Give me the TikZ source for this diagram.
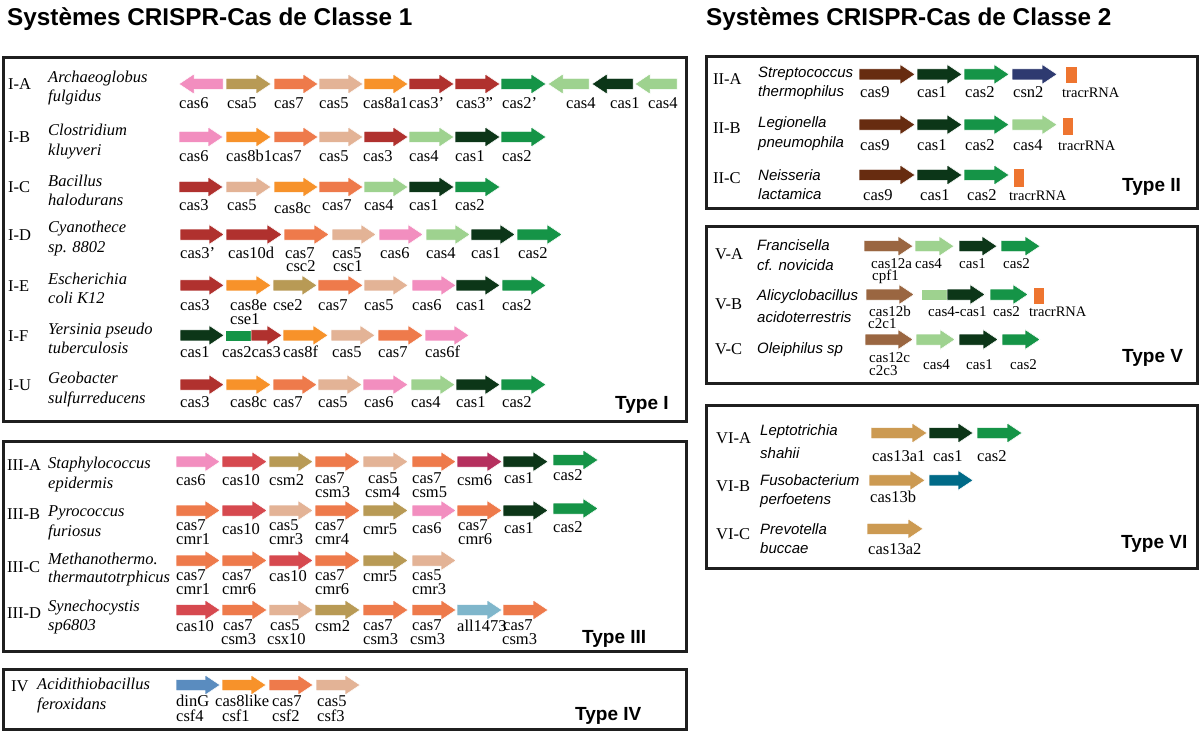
\documentclass[tikz,border=0pt]{standalone}
\usepackage{fontspec}
\setmainfont{Liberation Serif}
\newfontfamily\sansf{Liberation Sans}
\definecolor{cpink}{HTML}{F28EBF}
\definecolor{colive}{HTML}{B89A55}
\definecolor{ccoral}{HTML}{EE7A4B}
\definecolor{cpeach}{HTML}{E3B396}
\definecolor{corange}{HTML}{F7922A}
\definecolor{cdred}{HTML}{B0312E}
\definecolor{cgreen}{HTML}{159447}
\definecolor{clgreen}{HTML}{9ED28F}
\definecolor{cdgreen}{HTML}{0C3618}
\definecolor{cred}{HTML}{D6494F}
\definecolor{ccrim}{HTML}{B5305E}
\definecolor{clblue}{HTML}{7FB6CB}
\definecolor{csteel}{HTML}{5A8CBF}
\definecolor{cbrown}{HTML}{672C10}
\definecolor{cnavy}{HTML}{2E3A70}
\definecolor{ctracr}{HTML}{EE7530}
\definecolor{cbrownl}{HTML}{9A6641}
\definecolor{ctan}{HTML}{CC9A52}
\definecolor{cteal}{HTML}{006A87}
\newcounter{nn}
\newcommand{\nd}[4]{\stepcounter{nn}\node[#1] (n\arabic{nn}) at (#2,#3) {#4};}
\newcommand{\lb}[3]{\nd{lbl}{#1}{#2}{#3}}
% two-line label: x, first baseline, line1, indent of line 2 (pt), line2
\newcommand{\lbb}[5]{\nd{lbl2}{#1}{#2-11.2}{#3\\\hspace*{#4pt}#5}}
\newcommand{\lbw}[5]{\nd{lbl2w}{#1}{#2-11.2}{#3\\\hspace*{#4pt}#5}}
\newcommand{\ls}[3]{\nd{lbls}{#1}{#2}{#3}}
\newcommand{\lss}[5]{\nd{lbls2}{#1}{#2-10.2}{#3\\\hspace*{#4pt}#5}}
\newcommand{\ga}[4]{\filldraw[fill=#4,gene] (#1,#2-5.5) -- (#1+#3-15,#2-5.5) -- (#1+#3-15,#2-10) -- (#1+#3,#2) -- (#1+#3-15,#2+10) -- (#1+#3-15,#2+5.5) -- (#1,#2+5.5) -- cycle;}
\newcommand{\gal}[4]{\filldraw[fill=#4,gene] (#1,#2) -- (#1+15,#2-10) -- (#1+15,#2-5.5) -- (#1+#3,#2-5.5) -- (#1+#3,#2+5.5) -- (#1+15,#2+5.5) -- (#1+15,#2+10) -- cycle;}
\newcommand{\grect}[5]{\filldraw[fill=#5,gene] (#1,#2) rectangle (#3,#4);}
\begin{document}
\begin{tikzpicture}[x=1pt,y=-1pt,
  gene/.style={draw=white,line width=0.5pt},
  lbl/.style={anchor=base west,inner sep=0pt,font=\fontsize{16.5}{19}\selectfont},
  lbl2/.style={anchor=north west,inner sep=0pt,align=left,font=\fontsize{16.5}{13.5}\selectfont},
  lbl2w/.style={anchor=north west,inner sep=0pt,align=left,font=\fontsize{16.5}{15}\selectfont},
  lbls/.style={anchor=base west,inner sep=0pt,font=\fontsize{15}{17}\selectfont},
  lbls2/.style={anchor=north west,inner sep=0pt,align=left,font=\fontsize{15}{12.5}\selectfont},
  trc/.style={anchor=base west,inner sep=0pt,font=\fontsize{14.5}{17}\selectfont},
  spI/.style={anchor=base west,inner sep=0pt,font=\fontsize{16.5}{19}\selectfont\itshape},
  spS/.style={anchor=base west,inner sep=0pt,font=\sansf\fontsize{15}{18}\selectfont\itshape},
  typ/.style={anchor=base west,inner sep=0pt,font=\sansf\bfseries\fontsize{19}{22}\selectfont},
  ttl/.style={anchor=base west,inner sep=0pt,font=\sansf\bfseries\fontsize{24.3}{28}\selectfont},
  box/.style={draw=black!88,line width=3pt}]
\useasboundingbox (0,0) rectangle (1200,733);
\fill[white] (0,0) rectangle (1200,733);
% titles
\nd{ttl}{7}{26}{Systèmes CRISPR-Cas de Classe 1}
\nd{ttl}{706}{26}{Systèmes CRISPR-Cas de Classe 2}
% boxes
\draw[box] (3.2,57.5) rectangle (686.7,421);
\draw[box] (3.2,441) rectangle (686.7,651);
\draw[box] (3.2,669) rectangle (686.7,729.5);
\draw[box] (706.7,56.7) rectangle (1197.3,208.3);
\draw[box] (706.7,226.7) rectangle (1197.3,383.3);
\draw[box] (706.7,405) rectangle (1197.3,568.3);
% ================= Type I =================
% I-A
\nd{lbl}{8}{90}{I-A}
\nd{spI}{48}{83}{Archaeoglobus}
\nd{spI}{48}{102}{fulgidus}
\gal{179}{84}{44}{cpink}
\ga{226}{84}{45}{colive}
\ga{274}{84}{44}{ccoral}
\ga{319}{84}{44}{cpeach}
\ga{364}{84}{44}{corange}
\ga{409}{84}{45}{cdred}
\ga{455}{84}{45}{cdred}
\ga{501}{84}{45}{cgreen}
\gal{548}{84}{41}{clgreen}
\gal{592}{84}{41}{cdgreen}
\gal{635}{84}{42}{clgreen}
\lb{179}{108.5}{cas6}
\lb{227}{108.5}{csa5}
\lb{274}{108.5}{cas7}
\lb{319}{108.5}{cas5}
\lb{363}{108.5}{cas8a1}
\lb{409}{108.5}{cas3’}
\lb{456}{108.5}{cas3”}
\lb{502}{108.5}{cas2’}
\lb{566}{108.5}{cas4}
\lb{610}{108.5}{cas1}
\lb{648}{108.5}{cas4}
% I-B
\nd{lbl}{8}{143}{I-B}
\nd{spI}{48}{136}{Clostridium}
\nd{spI}{48}{155.5}{kluyveri}
\ga{179}{137}{44}{cpink}
\ga{226}{137}{45}{corange}
\ga{274}{137}{44}{ccoral}
\ga{319}{137}{44}{cpeach}
\ga{364}{137}{44}{cdred}
\ga{409}{137}{45}{clgreen}
\ga{455}{137}{45}{cdgreen}
\ga{501}{137}{45}{cgreen}
\lb{179}{161.5}{cas6}
\lb{226}{161.5}{cas8b1}
\lb{272}{161.5}{cas7}
\lb{319}{161.5}{cas5}
\lb{363}{161.5}{cas3}
\lb{409}{161.5}{cas4}
\lb{455}{161.5}{cas1}
\lb{502}{161.5}{cas2}
% I-C
\nd{lbl}{8}{193}{I-C}
\nd{spI}{48}{186}{Bacillus}
\nd{spI}{48}{205.5}{halodurans}
\ga{179}{187}{44}{cdred}
\ga{226}{187}{45}{cpeach}
\ga{274}{187}{44}{corange}
\ga{319}{187}{44}{ccoral}
\ga{364}{187}{44}{clgreen}
\ga{409}{187}{45}{cdgreen}
\ga{455}{187}{45}{cgreen}
\lb{179}{210}{cas3}
\lb{227}{210}{cas5}
\lb{274}{213}{cas8c}
\lb{322}{210}{cas7}
\lb{364}{210}{cas4}
\lb{409}{210}{cas1}
\lb{455}{210}{cas2}
% I-D
\nd{lbl}{8}{240.7}{I-D}
\nd{spI}{48}{233}{Cyanothece}
\nd{spI}{48}{252.5}{sp. 8802}
\ga{180}{234.5}{44}{cdred}
\ga{226}{234.5}{56}{cdred}
\ga{284}{234.5}{45}{ccoral}
\ga{332}{234.5}{44}{cpeach}
\ga{379}{234.5}{44}{cpink}
\ga{426}{234.5}{44}{clgreen}
\ga{471}{234.5}{44}{cdgreen}
\ga{517}{234.5}{45}{cgreen}
\lb{180}{258.3}{cas3’}
\lb{228}{258.3}{cas10d}
\lbb{285}{258.3}{cas7}{1}{csc2}
\lbb{332}{258.3}{cas5}{1}{csc1}
\lb{380}{258.3}{cas6}
\lb{426}{258.3}{cas4}
\lb{471}{258.3}{cas1}
\lb{518}{258.3}{cas2}
% I-E
\nd{lbl}{8}{291}{I-E}
\nd{spI}{48}{284}{Escherichia}
\nd{spI}{48}{303.5}{coli K12}
\ga{180}{285.3}{44}{cdred}
\ga{226}{285.3}{45}{corange}
\ga{273}{285.3}{44}{colive}
\ga{318}{285.3}{45}{ccoral}
\ga{364}{285.3}{44}{cpeach}
\ga{412}{285.3}{44}{cpink}
\ga{456}{285.3}{44}{cdgreen}
\ga{502}{285.3}{44}{cgreen}
\lb{180}{310.7}{cas3}
\lbb{230}{310.7}{cas8e}{0}{cse1}
\lb{273}{310.7}{cse2}
\lb{318}{310.7}{cas7}
\lb{364}{310.7}{cas5}
\lb{412}{310.7}{cas6}
\lb{456}{310.7}{cas1}
\lb{502}{310.7}{cas2}
% I-F
\nd{lbl}{8}{341}{I-F}
\nd{spI}{48}{334}{Yersinia pseudo}
\nd{spI}{48}{353.5}{tuberculosis}
\ga{180}{335.3}{44}{cdgreen}
\grect{225}{329.8}{251}{340.8}{cgreen}
\ga{251}{335.3}{31}{cdred}
\ga{283}{335.3}{45}{corange}
\ga{331}{335.3}{44}{cpeach}
\ga{378}{335.3}{45}{ccoral}
\ga{425}{335.3}{44}{cpink}
\lb{180}{357}{cas1}
\lb{222}{357}{cas2cas3}
\lb{283}{357}{cas8f}
\lb{332}{357}{cas5}
\lb{378}{357}{cas7}
\lb{425}{357}{cas6f}
% I-U
\nd{lbl}{8}{390.5}{I-U}
\nd{spI}{48}{383.5}{Geobacter}
\nd{spI}{48}{403}{sulfurreducens}
\ga{180}{384.7}{44}{cdred}
\ga{226}{384.7}{45}{corange}
\ga{273}{384.7}{44}{ccoral}
\ga{318}{384.7}{44}{cpeach}
\ga{363}{384.7}{45}{cpink}
\ga{411}{384.7}{44}{clgreen}
\ga{456}{384.7}{44}{cdgreen}
\ga{501}{384.7}{45}{cgreen}
\lb{180}{407.3}{cas3}
\lb{230}{407.3}{cas8c}
\lb{273}{407.3}{cas7}
\lb{318}{407.3}{cas5}
\lb{364}{407.3}{cas6}
\lb{411}{407.3}{cas4}
\lb{456}{407.3}{cas1}
\lb{502}{407.3}{cas2}
\nd{typ}{615}{409}{Type I}
% ================= Type III =================
% III-A
\nd{lbl}{7}{470.7}{III-A}
\nd{spI}{48}{468}{Staphylococcus}
\nd{spI}{48}{488}{epidermis}
\ga{176}{461.7}{44}{cpink}
\ga{222}{461.7}{45}{cred}
\ga{269}{461.7}{44}{colive}
\ga{315}{461.7}{45}{ccoral}
\ga{363}{461.7}{45}{cpeach}
\ga{412}{461.7}{44}{ccoral}
\ga{457}{461.7}{45}{ccrim}
\ga{503}{461.7}{45}{cdgreen}
\ga{553}{460}{45}{cgreen}
\lb{176}{485}{cas6}
\lb{222}{485}{cas10}
\lb{269}{485}{csm2}
\lbb{315}{484}{cas7}{0}{csm3}
\lbb{365}{484}{\hspace*{3pt}cas5}{0}{csm4}
\lbb{412}{484}{cas7}{0}{csm5}
\lb{457}{485}{csm6}
\lb{504}{483}{cas1}
\lb{553}{480}{cas2}
% III-B
\nd{lbl}{7}{519}{III-B}
\nd{spI}{48}{516}{Pyrococcus}
\nd{spI}{48}{536}{furiosus}
\ga{176}{510.5}{44}{ccoral}
\ga{222}{510.5}{45}{cred}
\ga{269}{510.5}{44}{cpeach}
\ga{315}{510.5}{45}{ccoral}
\ga{363}{510.5}{45}{colive}
\ga{412}{510.5}{44}{cpink}
\ga{457}{510.5}{45}{ccoral}
\ga{503}{510.5}{45}{cdgreen}
\ga{553}{508.5}{45}{cgreen}
\lbb{176}{531}{cas7}{0}{cmr1}
\lb{222}{534}{cas10}
\lbb{269}{531}{cas5}{0}{cmr3}
\lbb{315}{531}{cas7}{0}{cmr4}
\lb{363}{534}{cmr5}
\lb{412}{533}{cas6}
\lbb{458}{531}{cas7}{0}{cmr6}
\lb{504}{533}{cas1}
\lb{553}{532}{cas2}
% III-C
\nd{lbl}{7}{572.7}{III-C}
\nd{spI}{48}{564}{Methanothermo.}
\nd{spI}{48}{582}{thermautotrphicus}
\ga{176}{560.5}{44}{ccoral}
\ga{222}{560.5}{45}{ccoral}
\ga{269}{560.5}{44}{cred}
\ga{315}{560.5}{45}{ccoral}
\ga{363}{560.5}{45}{colive}
\ga{412}{560.5}{44}{cpeach}
\lbb{176}{581}{cas7}{0}{cmr1}
\lbb{222}{581}{cas7}{0}{cmr6}
\lb{269}{581}{cas10}
\lbb{315}{581}{cas7}{0}{cmr6}
\lb{363}{581.7}{cmr5}
\lbb{412}{581}{cas5}{0}{cmr3}
% III-D
\nd{lbl}{7}{618.3}{III-D}
\nd{spI}{48}{611}{Synechocystis}
\nd{spI}{48}{630}{sp6803}
\ga{176}{610}{44}{cred}
\ga{222}{610}{45}{ccoral}
\ga{269}{610}{44}{cpeach}
\ga{315}{610}{45}{colive}
\ga{363}{610}{45}{ccoral}
\ga{412}{610}{44}{ccoral}
\ga{457}{610}{45}{clblue}
\ga{503}{610}{45}{ccoral}
\lb{176}{631}{cas10}
\lbb{221}{631}{\hspace*{2pt}cas7}{0}{csm3}
\lbb{267}{631}{\hspace*{3pt}cas5}{0}{csx10}
\lb{315}{631}{csm2}
\lbb{363}{631}{cas7}{0}{csm3}
\lbb{410}{631}{\hspace*{2pt}cas7}{0}{csm3}
\lb{457}{631}{all1473}
\lbb{502}{631}{\hspace*{1pt}cas7}{0}{csm3}
\nd{typ}{582}{643}{Type III}
% ================= Type IV =================
\nd{lbl}{11}{691}{IV}
\nd{spI}{37}{689}{Acidithiobacillus}
\nd{spI}{37}{709}{feroxidans}
\ga{176}{685}{44}{csteel}
\ga{222}{685}{44}{corange}
\ga{269}{685}{44}{ccoral}
\ga{316}{685}{44}{cpeach}
\lbw{176}{706.5}{dinG}{0}{csf4}
\lbw{215}{706.5}{cas8like}{7}{csf1}
\lbw{272}{706.5}{cas7}{0}{csf2}
\lbw{317}{706.5}{cas5}{0}{csf3}
\nd{typ}{575}{720}{Type IV}
% ================= Type II =================
% II-A
\nd{lbl}{713}{85}{II-A}
\nd{spS}{758}{78}{Streptococcus}
\nd{spS}{758}{97}{thermophilus}
\ga{859}{74.3}{56}{cbrown}
\ga{917}{74.3}{45}{cdgreen}
\ga{964}{74.3}{45}{cgreen}
\ga{1012}{74.3}{45}{cnavy}
\grect{1065}{66.5}{1077}{83}{ctracr}
\lb{860}{97.3}{cas9}
\lb{917}{97.3}{cas1}
\lb{965}{97.3}{cas2}
\lb{1013}{97.3}{csn2}
\nd{trc}{1062}{97.3}{tracrRNA}
% II-B
\nd{lbl}{713}{134}{II-B}
\nd{spS}{758}{128}{Legionella}
\nd{spS}{758}{148}{pneumophila}
\ga{859}{124.7}{56}{cbrown}
\ga{917}{124.7}{45}{cdgreen}
\ga{964}{124.7}{45}{cgreen}
\ga{1012}{124.7}{45}{clgreen}
\grect{1062}{117}{1073}{135}{ctracr}
\lb{860}{150}{cas9}
\lb{917}{150}{cas1}
\lb{965}{150}{cas2}
\lb{1013}{150}{cas4}
\nd{trc}{1058}{150}{tracrRNA}
% II-C
\nd{lbl}{713}{183.3}{II-C}
\nd{spS}{758}{180}{Neisseria}
\nd{spS}{758}{200}{lactamica}
\ga{859}{175}{56}{cbrown}
\ga{917}{175}{45}{cdgreen}
\ga{964}{175}{45}{cgreen}
\grect{1013}{168}{1024}{187}{ctracr}
\lb{863}{200.7}{cas9}
\lb{920}{200.7}{cas1}
\lb{967}{200.7}{cas2}
\nd{trc}{1009}{200.7}{tracrRNA}
\nd{typ}{1122}{192}{Type II}
% ================= Type V =================
% V-A
\nd{lbl}{715}{259.3}{V-A}
\nd{spS}{757}{250.7}{Francisella}
\nd{spS}{757}{270.7}{cf. novicida}
\ga{864}{246.2}{49}{cbrownl}
\ga{915}{246.2}{39}{clgreen}
\ga{959}{246.2}{38}{cdgreen}
\ga{1001}{246.2}{39}{cgreen}
\lss{871}{268.3}{cas12a}{1}{cpf1}
\ls{915}{268.3}{cas4}
\ls{959}{268.3}{cas1}
\ls{1003}{268.3}{cas2}
% V-B
\nd{lbl}{715}{309.3}{V-B}
\nd{spS}{757}{300}{Alicyclobacillus}
\nd{spS}{757}{322}{acidoterrestris}
\ga{866}{294.5}{48}{cbrownl}
\grect{921}{289}{947}{300}{clgreen}
\ga{947}{294.5}{38}{cdgreen}
\ga{990}{294.5}{38}{cgreen}
\grect{1033}{287}{1044}{304}{ctracr}
\lss{868}{316}{\hspace*{1pt}cas12b}{0}{c2c1}
\ls{928}{316}{cas4-cas1}
\ls{993}{316}{cas2}
\nd{trc}{1029}{316}{tracrRNA}
% V-C
\nd{lbl}{715}{354}{V-C}
\nd{spS}{757}{353}{Oleiphilus sp}
\ga{865}{339.5}{48}{cbrownl}
\ga{916}{339.5}{39}{clgreen}
\ga{959}{339.5}{39}{cdgreen}
\ga{1002}{339.5}{38}{cgreen}
\lss{869}{362.7}{cas12c}{0}{c2c3}
\ls{923}{369.3}{cas4}
\ls{966}{369.3}{cas1}
\ls{1010}{369.3}{cas2}
\nd{typ}{1122}{362}{Type V}
% ================= Type VI =================
% VI-A
\nd{lbl}{716}{443.3}{VI-A}
\nd{spS}{760}{435}{Leptotrichia}
\nd{spS}{760}{458.3}{shahii}
\ga{871}{433}{56}{ctan}
\ga{929}{433}{44}{cdgreen}
\ga{977}{433}{45}{cgreen}
\lb{872}{461}{cas13a1}
\lb{933}{461}{cas1}
\lb{977}{461}{cas2}
% VI-B
\nd{lbl}{716}{491.7}{VI-B}
\nd{spS}{760}{485}{Fusobacterium}
\nd{spS}{760}{504}{perfoetens}
\ga{869}{480.3}{56}{ctan}
\ga{929}{480.3}{44}{cteal}
\lb{870}{502.3}{cas13b}
% VI-C
\nd{lbl}{716}{539}{VI-C}
\nd{spS}{760}{534.3}{Prevotella}
\nd{spS}{760}{553.3}{buccae}
\ga{867}{528.8}{56}{ctan}
\lb{868}{554.3}{cas13a2}
\nd{typ}{1121}{548.3}{Type VI}
\end{tikzpicture}
\end{document}
